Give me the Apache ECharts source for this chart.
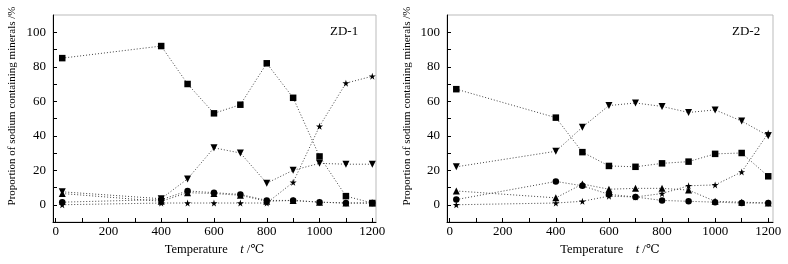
<!doctype html>
<html>
<head>
<meta charset="UTF-8">
<title>ZD-1 / ZD-2</title>
<script src="https://cdn.jsdelivr.net/npm/echarts@6/dist/echarts.min.js"></script>
<style>
  html, body { margin: 0; padding: 0; background: #fff; }
  #main { width: 788px; height: 264px; }
</style>
</head>
<body>
<div id="main"></div>
<script>
// temperature points (℃)
var temps = [25, 400, 500, 600, 700, 800, 900, 1000, 1100, 1200];

// ZD-1 proportions (%)
var zd1Square = [85, 92, 70, 53, 58, 82, 62, 28, 5, 1];
var zd1Down   = [7.5, 3.5, 15, 33, 30, 12.5, 20, 24, 23.5, 23.5];
var zd1Star   = [0, 1, 1, 1, 1, 1, 13, 45.5, 70.5, 74.5];
var zd1Circle = [1.5, 3, 8, 7, 6, 2.5, 2.5, 1.5, 1, 1];
var zd1Up     = [6.5, 2, 7, 6.5, 5.5, 2, 2.5, 1.5, 1, 1];

// ZD-2 proportions (%)
var zd2Square = [67, 50.5, 30.5, 22.5, 22, 24, 25, 29.5, 30, 16.5];
var zd2Down   = [22, 31, 45, 57.5, 59, 57, 53.5, 55, 48.5, 40];
var zd2Star   = [0, 1, 2, 5, 4.5, 6.5, 11, 11.5, 19, 41.5];
var zd2Circle = [3, 13.5, 11, 6, 4.5, 2.5, 2, 1.5, 1, 1];
var zd2Up     = [8, 4, 12, 9, 9.5, 9.5, 8.5, 2, 1.5, 1];

var xTicks = [0, 100, 200, 300, 400, 500, 600, 700, 800, 900, 1000, 1100, 1200];
var xLabels = [0, 200, 400, 600, 800, 1000, 1200];
var yTicks = [0, 10, 20, 30, 40, 50, 60, 70, 80, 90, 100];
var yLabels = [0, 20, 40, 60, 80, 100];

var serif = '"Liberation Serif", "DejaVu Serif", serif';
var starPath = 'path://M50,0 L61,35 L98,35 L68,57 L79,91 L50,70 L21,91 L32,57 L2,35 L39,35 Z';

function pairs(ys) {
    return temps.map(function (t, i) { return [t, ys[i]]; });
}

function makeSeries(idx, sq, dn, st, ci, up) {
    var line = { color: '#444', width: 1, type: [1, 2] };
    var base = { type: 'line', xAxisIndex: idx, yAxisIndex: idx, lineStyle: line,
                 itemStyle: { color: '#000' }, animation: false };
    return [
        Object.assign({}, base, { name: 'sq' + idx, data: pairs(sq), symbol: 'rect', symbolSize: 6.5 }),
        Object.assign({}, base, { name: 'dn' + idx, data: pairs(dn), symbol: 'triangle', symbolRotate: 180, symbolSize: 7 }),
        Object.assign({}, base, { name: 'up' + idx, data: pairs(up), symbol: 'triangle', symbolSize: 7 }),
        Object.assign({}, base, { name: 'ci' + idx, data: pairs(ci), symbol: 'circle', symbolSize: 6.5 }),
        Object.assign({}, base, { name: 'st' + idx, data: pairs(st), symbol: starPath, symbolSize: 7 })
    ];
}

function plain(v) { return String(v); }

function xAxisCfg(idx, max) {
    return {
        type: 'value', gridIndex: idx, min: -10, max: max,
        name: 'Temperature    {i|t} /℃', nameLocation: 'middle', nameGap: 20,
        nameTextStyle: { fontFamily: serif, fontSize: 12.5, color: '#000',
                         rich: { i: { fontStyle: 'italic', fontFamily: serif, fontSize: 12.5, color: '#000' } } },
        axisLine: { onZero: false, lineStyle: { color: '#000', width: 1 } },
        axisTick: { inside: true, length: 4, customValues: xTicks, lineStyle: { color: '#000' } },
        axisLabel: { customValues: xLabels, formatter: plain, fontFamily: serif, fontSize: 13, color: '#000', margin: 3 },
        splitLine: { show: false }
    };
}

function yAxisCfg(idx) {
    return {
        type: 'value', gridIndex: idx, min: -10, max: 110,
        axisLine: { show: true, onZero: false, lineStyle: { color: '#000', width: 1 } },
        axisTick: { show: true, inside: true, length: 4, customValues: yTicks, lineStyle: { color: '#000' } },
        axisLabel: { customValues: yLabels, formatter: plain, fontFamily: serif, fontSize: 13, color: '#000', margin: 7 },
        splitLine: { show: false }
    };
}

var myChart = echarts.init(document.getElementById('main'));

var option = {
    backgroundColor: '#fff',
    animation: false,
    grid: [
        { left: 53, right: 412, top: 15, bottom: 42, show: true, borderColor: '#bbb', borderWidth: 1 },
        { left: 447, right: 15, top: 15, bottom: 42, show: true, borderColor: '#bbb', borderWidth: 1 }
    ],
    xAxis: [xAxisCfg(0, 1214), xAxisCfg(1, 1218)],
    yAxis: [yAxisCfg(0), yAxisCfg(1)],
    graphic: [
        { type: 'text', x: 330, y: 25, style: { text: 'ZD-1', font: '13px ' + serif, fill: '#000' } },
        { type: 'text', x: 732, y: 25, style: { text: 'ZD-2', font: '13px ' + serif, fill: '#000' } },
        { type: 'text', x: 7, y: 106, rotation: Math.PI / 2,
          style: { text: 'Proportion of sodium containing minerals /%', font: '11px ' + serif, fill: '#000',
                   align: 'center', verticalAlign: 'top' } },
        { type: 'text', x: 402, y: 106, rotation: Math.PI / 2,
          style: { text: 'Proportion of sodium containing minerals /%', font: '11px ' + serif, fill: '#000',
                   align: 'center', verticalAlign: 'top' } }
    ],
    series: makeSeries(0, zd1Square, zd1Down, zd1Star, zd1Circle, zd1Up)
        .concat(makeSeries(1, zd2Square, zd2Down, zd2Star, zd2Circle, zd2Up))
};

myChart.setOption(option);
</script>
</body>
</html>
